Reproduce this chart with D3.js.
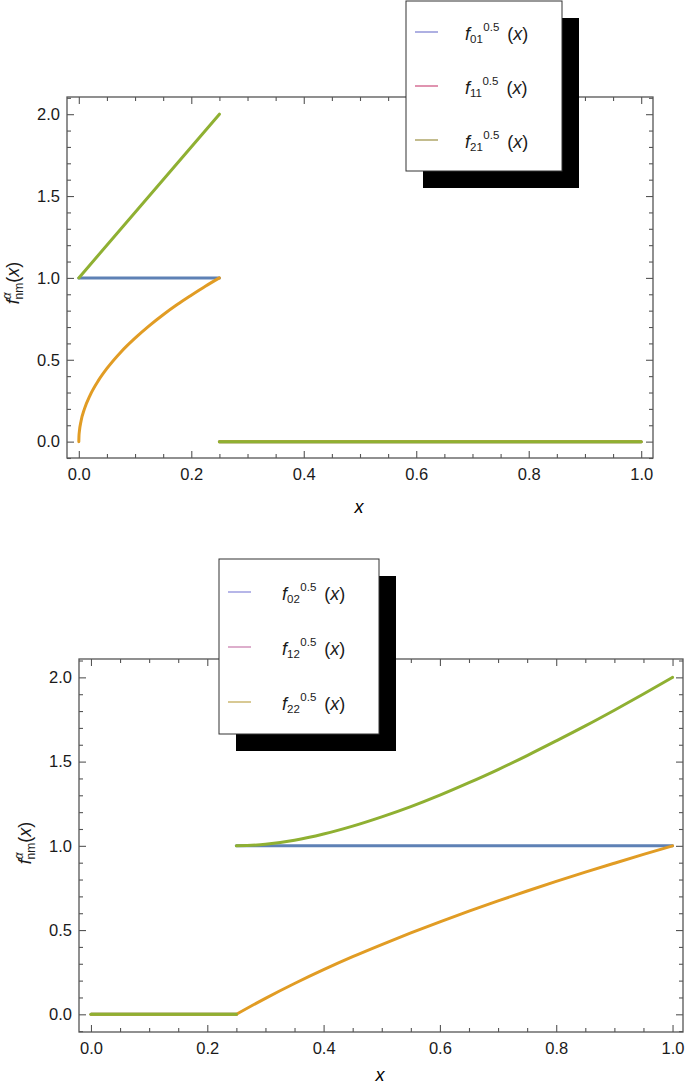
<!DOCTYPE html>
<html>
<head>
<meta charset="utf-8">
<script src="https://d3js.org/d3.v7.min.js"></script>
<style>
  html, body { margin: 0; padding: 0; background: #fff; }
  svg { display: block; }
  .tick text { font-family: "Liberation Sans", Arial, sans-serif; font-size: 16.5px; fill: #1a1a1a; }
</style>
</head>
<body>
<svg id="chart" width="685" height="1086"></svg>
<script>
// ---- data ----
const seriesColors = ["#5E81B5", "#E19C24", "#8FB032"];

const xMajor = [0, 0.2, 0.4, 0.6, 0.8, 1.0];
const xMinor = [0.05, 0.1, 0.15, 0.25, 0.3, 0.35, 0.45, 0.5, 0.55, 0.65, 0.7, 0.75, 0.85, 0.9, 0.95];
const yMajor = [0, 0.5, 1.0, 1.5, 2.0];
const yMinor = [-0.1, 0.1, 0.2, 0.3, 0.4, 0.6, 0.7, 0.8, 0.9, 1.1, 1.2, 1.3, 1.4, 1.6, 1.7, 1.8, 1.9, 2.1];

// top panel: n = 0,1,2 ; m = 1
const topOrangeX = [0, 0.0003, 0.001, 0.004, 0.01, 0.02, 0.035, 0.05, 0.075, 0.1, 0.125, 0.15, 0.175, 0.2, 0.225, 0.25];
const topOrangeY = [0, 0.035, 0.063, 0.126, 0.2, 0.283, 0.374, 0.447, 0.548, 0.632, 0.707, 0.775, 0.837, 0.894, 0.949, 1.0];
const topBlue = [{x: [0, 0.25], y: [1, 1]}, {x: [0.25, 1], y: [0, 0]}];
const topOrange = [{x: topOrangeX, y: topOrangeY}, {x: [0.25, 1], y: [0, 0]}];
const topGreen = [{x: [0, 0.25], y: [1, 2]}, {x: [0.25, 1], y: [0, 0]}];

// bottom panel: n = 0,1,2 ; m = 2
const botX = [0.25, 0.3, 0.35, 0.4, 0.45, 0.5, 0.55, 0.6, 0.65, 0.7, 0.75, 0.8, 0.85, 0.9, 0.95, 1.0];
const botOrangeY = [0, 0.095, 0.183, 0.265, 0.342, 0.414, 0.483, 0.549, 0.612, 0.673, 0.732, 0.789, 0.844, 0.897, 0.949, 1.0];
const botGreenY = [1, 1.009, 1.033, 1.070, 1.117, 1.172, 1.233, 1.301, 1.375, 1.453, 1.536, 1.623, 1.712, 1.805, 1.901, 2.0];
const botBlue = [{x: [0, 0.25], y: [0, 0]}, {x: [0.25, 1], y: [1, 1]}];
const botOrange = [{x: [0, 0.25], y: [0, 0]}, {x: botX, y: botOrangeY}];
const botGreen = [{x: [0, 0.25], y: [0, 0]}, {x: botX, y: botGreenY}];

const topLegendIdx = ["01", "11", "21"];
const botLegendIdx = ["02", "12", "22"];
const topLegendColors = ["#8b8fd6", "#d3668f", "#aa9f5e"];
const botLegendColors = ["#9797de", "#cf8bb6", "#c8b266"];

const svg = d3.select("#chart");
const FONT = "'Liberation Sans', Arial, sans-serif";

function drawPanel(p) {
    const x = d3.scaleLinear().domain(p.xDom).range([p.left, p.right]);
    const y = d3.scaleLinear().domain(p.yDom).range([p.bottom, p.top]);
    const g = svg.append("g");

    // curves (blue, orange, green - green on top)
    const line = d3.line()
        .x(d => x(d[0]))
        .y(d => y(d[1]))
        .curve(d3.curveMonotoneX);
    p.series.forEach((segs, i) => {
        segs.forEach(s => {
            g.append("path")
                .attr("d", line(s.x.map((v, k) => [v, s.y[k]])))
                .attr("fill", "none")
                .attr("stroke", seriesColors[i])
                .attr("stroke-width", 3)
                .attr("stroke-linecap", "round");
        });
    });

    // frame ticks, pointing inward
    const fmt = d3.format(".1f");
    const axes = [
        [d3.axisBottom(x).tickValues(xMajor).tickSize(-7).tickPadding(10).tickFormat(fmt), `translate(0,${p.bottom})`],
        [d3.axisBottom(x).tickValues(xMinor).tickSize(-4).tickFormat(""), `translate(0,${p.bottom})`],
        [d3.axisTop(x).tickValues(xMajor).tickSize(-7).tickFormat(""), `translate(0,${p.top})`],
        [d3.axisTop(x).tickValues(xMinor).tickSize(-4).tickFormat(""), `translate(0,${p.top})`],
        [d3.axisLeft(y).tickValues(yMajor).tickSize(-7).tickPadding(7).tickFormat(fmt), `translate(${p.left},0)`],
        [d3.axisLeft(y).tickValues(yMinor).tickSize(-4).tickFormat(""), `translate(${p.left},0)`],
        [d3.axisRight(y).tickValues(yMajor).tickSize(-7).tickFormat(""), `translate(${p.right},0)`],
        [d3.axisRight(y).tickValues(yMinor).tickSize(-4).tickFormat(""), `translate(${p.right},0)`]
    ];
    axes.forEach(([ax, tr]) => {
        const a = g.append("g").attr("transform", tr).call(ax);
        a.select(".domain").remove();
        a.selectAll(".tick line").attr("stroke", "#555").attr("stroke-width", 1.1);
    });

    g.append("rect")
        .attr("x", p.left).attr("y", p.top)
        .attr("width", p.right - p.left).attr("height", p.bottom - p.top)
        .attr("fill", "none").attr("stroke", "#555").attr("stroke-width", 1.3);

    // axis titles
    g.append("text")
        .attr("x", p.xLabel[0]).attr("y", p.xLabel[1])
        .attr("text-anchor", "middle")
        .style("font-family", FONT).style("font-size", "18px").style("font-style", "italic")
        .text("x");

    const yl = g.append("text")
        .attr("transform", `translate(${p.yLabel[0]},${p.yLabel[1]}) rotate(-90)`)
        .attr("text-anchor", "middle")
        .style("font-family", FONT).style("font-size", "18px").attr("fill", "#1a1a1a");
    yl.append("tspan").style("font-style", "italic").text("f");
    yl.append("tspan").attr("dy", -8).style("font-size", "12px").style("font-style", "italic").text("α");
    yl.append("tspan").attr("dx", -7).attr("dy", 12).style("font-size", "12px").text("nm");
    yl.append("tspan").attr("dy", -4).text("(");
    yl.append("tspan").style("font-style", "italic").text("x");
    yl.append("tspan").text(")");

    // legend with drop shadow
    const L = p.legend;
    const lg = svg.append("g");
    lg.append("rect")
        .attr("x", L.x + 17).attr("y", L.y + 17)
        .attr("width", L.w).attr("height", L.h)
        .attr("fill", "#000");
    lg.append("rect")
        .attr("x", L.x).attr("y", L.y)
        .attr("width", L.w).attr("height", L.h)
        .attr("fill", "#fff").attr("stroke", "#333").attr("stroke-width", 1);
    L.idx.forEach((id, i) => {
        const cy = L.rowY[i];
        lg.append("line")
            .attr("x1", L.x + 9).attr("x2", L.x + 32)
            .attr("y1", cy).attr("y2", cy)
            .attr("stroke", L.colors[i]).attr("stroke-width", 1.4);
        const t = lg.append("text")
            .attr("x", L.x + L.textDx).attr("y", cy + 7.5)
            .style("font-family", FONT).style("font-size", "18px").attr("fill", "#1a1a1a");
        t.append("tspan").style("font-style", "italic").text("f");
        t.append("tspan").attr("dy", 3).style("font-size", "11.5px").text(id);
        t.append("tspan").attr("dy", -11.5).attr("dx", 0.5).style("font-size", "11.5px").text("0.5");
        t.append("tspan").attr("dy", 8.5).attr("dx", 8).text("(");
        t.append("tspan").style("font-style", "italic").text("x");
        t.append("tspan").text(")");
    });
}

drawPanel({
    left: 67, right: 653, top: 97, bottom: 458,
    xDom: [-0.021, 1.021], yDom: [-0.1, 2.105],
    series: [topBlue, topOrange, topGreen],
    xLabel: [359, 513], yLabel: [19, 283],
    legend: {x: 406, y: 1, w: 156, h: 170, rowY: [32, 86, 140],
             textDx: 59, idx: topLegendIdx, colors: topLegendColors}
});

drawPanel({
    left: 79, right: 683, top: 659, bottom: 1032,
    xDom: [-0.0206, 1.018], yDom: [-0.105, 2.109],
    series: [botBlue, botOrange, botGreen],
    xLabel: [380, 1081], yLabel: [31, 843],
    legend: {x: 219, y: 559, w: 160, h: 175, rowY: [592, 647, 702],
             textDx: 63, idx: botLegendIdx, colors: botLegendColors}
});
</script>
</body>
</html>
